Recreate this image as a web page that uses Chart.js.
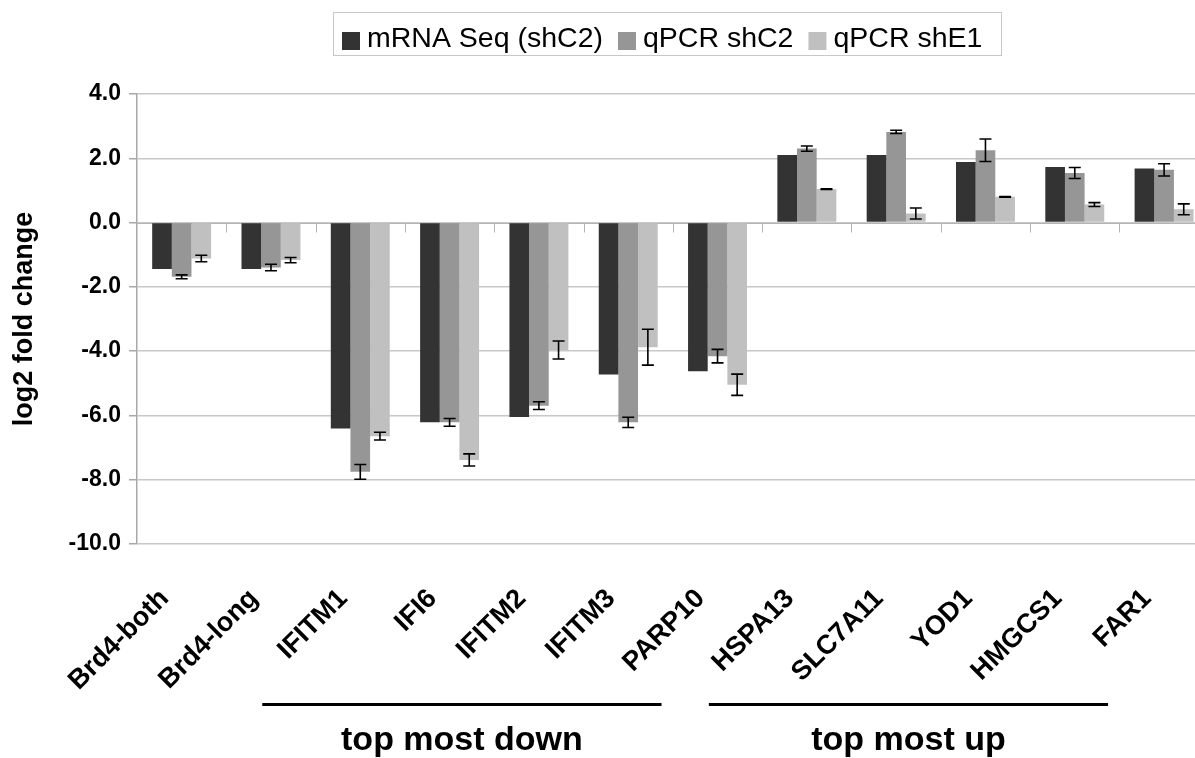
<!DOCTYPE html>
<html>
<head>
<meta charset="utf-8">
<script src="https://cdn.jsdelivr.net/npm/chart.js@4.4.1/dist/chart.umd.min.js"></script>
<style>
  html, body { margin: 0; padding: 0; background: #ffffff; overflow: hidden; }
  #wrap { position: absolute; left: 0; top: 0; width: 1218px; height: 758px; }
</style>
</head>
<body>
<div id="wrap"><canvas id="chart" width="1218" height="758"></canvas></div>
<script>
// Genes on the category axis
const categories = ['Brd4-both', 'Brd4-long', 'IFITM1', 'IFI6', 'IFITM2', 'IFITM3', 'PARP10',
                    'HSPA13', 'SLC7A11', 'YOD1', 'HMGCS1', 'FAR1'];

// log2 fold change per series
const seriesNames = ['mRNA Seq (shC2)', 'qPCR shC2', 'qPCR shE1'];
const mrnaSeqShC2 = [-1.45, -1.45, -6.41, -6.22, -6.05, -4.73, -4.63, 2.10, 2.10, 1.88, 1.73, 1.68];
const qpcrShC2    = [-1.69, -1.40, -7.76, -6.22, -5.70, -6.22, -4.16, 2.30, 2.82, 2.25, 1.54, 1.64];
const qpcrShE1    = [-1.12, -1.17, -6.65, -7.39, -3.97, -3.88, -5.05, 1.04, 0.28, 0.80, 0.56, 0.41];

// error bar half-lengths (qPCR series only)
const qpcrShC2Err = [0.06, 0.10, 0.23, 0.12, 0.12, 0.16, 0.21, 0.08, 0.05, 0.35, 0.17, 0.19];
const qpcrShE1Err = [0.10, 0.08, 0.12, 0.19, 0.28, 0.56, 0.33, 0.01, 0.17, 0.01, 0.06, 0.17];

// y axis range and tick step
const yMin = -10, yMax = 4, yStep = 2;

// bracketed gene groups under the axis labels
const groupNames = ['top most down', 'top most up'];
const groupFirst = [2, 7];
const groupLast  = [6, 11];

const FONT = '"Liberation Sans", Arial, Helvetica, sans-serif';
const colors = ['#333333', '#969696', '#c0c0c0'];

// Error bars drawn on top of the qPCR bars
const errorBarPlugin = {
  id: 'errorBars',
  afterDatasetsDraw(chart) {
    const ctx = chart.ctx;
    const y = chart.scales.y;
    ctx.save();
    ctx.strokeStyle = '#000000';
    ctx.lineWidth = 1.6;
    chart.data.datasets.forEach((ds, di) => {
      if (!ds.errors) return;
      const meta = chart.getDatasetMeta(di);
      meta.data.forEach((bar, i) => {
        const v = ds.data[i], e = ds.errors[i];
        const y1 = y.getPixelForValue(v + e);
        const y2 = y.getPixelForValue(v - e);
        const x = bar.x, cap = 6;
        ctx.beginPath();
        ctx.moveTo(x, y1); ctx.lineTo(x, y2);
        ctx.moveTo(x - cap, y1); ctx.lineTo(x + cap, y1);
        ctx.moveTo(x - cap, y2); ctx.lineTo(x + cap, y2);
        ctx.stroke();
      });
    });
    ctx.restore();
  }
};

// Horizontal zero axis with category boundary tick marks
const zeroAxisPlugin = {
  id: 'zeroAxis',
  beforeDatasetsDraw(chart) {
    const ctx = chart.ctx;
    const x = chart.scales.x, y = chart.scales.y;
    const y0 = Math.round(y.getPixelForValue(0)) + 0.5;
    const area = chart.chartArea;
    ctx.save();
    ctx.strokeStyle = '#b4b4b4';
    ctx.lineWidth = 1;
    ctx.beginPath();
    ctx.moveTo(area.left, y0); ctx.lineTo(area.right, y0);
    for (let i = 1; i < categories.length; i++) {
      const bx = Math.round((x.getPixelForValue(i - 1) + x.getPixelForValue(i)) / 2) + 0.5;
      ctx.moveTo(bx, y0); ctx.lineTo(bx, y0 + 9);
    }
    ctx.stroke();
    ctx.restore();
  }
};

// Framed legend row and group brackets
const decorPlugin = {
  id: 'decor',
  afterDraw(chart) {
    const ctx = chart.ctx;
    ctx.save();
    // legend
    ctx.strokeStyle = '#c8c8c8';
    ctx.lineWidth = 1;
    ctx.strokeRect(333.5, 12.5, 668, 43);
    ctx.font = '28.5px ' + FONT;
    ctx.textBaseline = 'middle';
    ctx.textAlign = 'left';
    let lx = 342;
    chart.data.datasets.forEach(ds => {
      ctx.fillStyle = ds.backgroundColor;
      ctx.fillRect(lx, 32, 18, 18);
      ctx.fillStyle = '#000000';
      ctx.fillText(ds.label, lx + 25, 39);
      lx += 25 + ctx.measureText(ds.label).width + 15;
    });
    // group brackets
    const xs = chart.scales.x;
    ctx.strokeStyle = '#000000';
    ctx.lineWidth = 3;
    ctx.font = 'bold 34px ' + FONT;
    ctx.textAlign = 'center';
    ctx.textBaseline = 'alphabetic';
    ctx.fillStyle = '#000000';
    groupNames.forEach((name, g) => {
      const x1 = xs.getPixelForValue(groupFirst[g]) - 98;
      const x2 = xs.getPixelForValue(groupLast[g]) - 56;
      ctx.beginPath();
      ctx.moveTo(x1, 704.5); ctx.lineTo(x2, 704.5);
      ctx.stroke();
      ctx.fillText(name, (x1 + x2) / 2, 750);
    });
    ctx.restore();
  }
};

const seriesValues = [mrnaSeqShC2, qpcrShC2, qpcrShE1];
const seriesErrors = [null, qpcrShC2Err, qpcrShE1Err];

new Chart(document.getElementById('chart'), {
  type: 'bar',
  data: {
    labels: categories,
    datasets: seriesNames.map((name, i) => ({
      label: name,
      data: seriesValues[i],
      errors: seriesErrors[i],
      backgroundColor: colors[i],
      borderWidth: 0,
      categoryPercentage: 0.66,
      barPercentage: 1.0
    }))
  },
  options: {
    responsive: false,
    animation: false,
    devicePixelRatio: 1,
    layout: { padding: { top: 94, left: 0, right: 0, bottom: 0 } },
    plugins: {
      legend: { display: false },
      tooltip: { enabled: false }
    },
    scales: {
      x: {
        offset: true,
        grid: { display: false },
        border: { display: false },
        ticks: {
          color: '#000000',
          font: { family: FONT, size: 27, weight: 'bold' },
          minRotation: 45,
          maxRotation: 45,
          autoSkip: false,
          padding: 31,
          labelOffset: -17
        },
        afterFit(scale) { scale.height = 758 - 543.8; }
      },
      y: {
        min: yMin,
        max: yMax,
        ticks: {
          stepSize: yStep,
          color: '#000000',
          font: { family: FONT, size: 23, weight: 'bold' },
          padding: 8,
          callback: v => v.toFixed(1)
        },
        grid: { color: '#c8c8c8', lineWidth: 1.5, tickLength: 8, tickColor: '#a8a8a8' },
        border: { display: true, color: '#a8a8a8', width: 1.5 },
        title: {
          display: true,
          text: 'log2 fold change',
          color: '#000000',
          font: { family: FONT, size: 27, weight: 'bold' },
          padding: { top: 8, bottom: 0 }
        },
        afterFit(scale) { scale.width = 137; }
      }
    }
  },
  plugins: [zeroAxisPlugin, errorBarPlugin, decorPlugin]
});
</script>
</body>
</html>
